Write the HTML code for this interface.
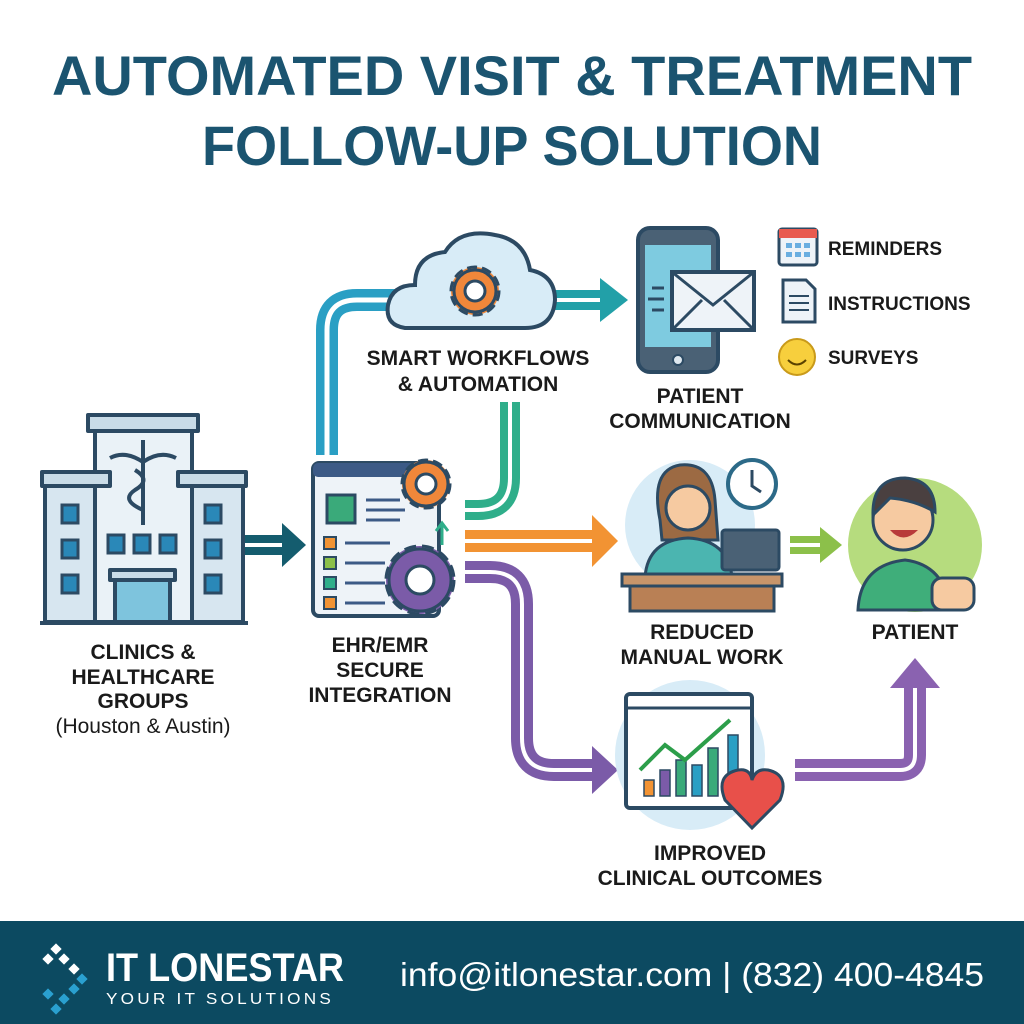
<!DOCTYPE html>
<html><head><meta charset="utf-8"><style>
html,body{margin:0;padding:0;background:#fff}
svg{display:block}
text{font-family:"Liberation Sans",sans-serif}
.lb{font-weight:bold;font-size:21px;fill:#1a1a1a;text-anchor:middle}
</style></head><body>
<svg width="1024" height="1024" viewBox="0 0 1024 1024" xmlns="http://www.w3.org/2000/svg">
<rect width="1024" height="1024" fill="#fff"/>
<!-- Title -->
<text x="512" y="95" text-anchor="middle" font-size="56" font-weight="bold" fill="#1b5470" textLength="920" lengthAdjust="spacingAndGlyphs">AUTOMATED VISIT &amp; TREATMENT</text>
<text x="512" y="165" text-anchor="middle" font-size="56" font-weight="bold" fill="#1b5470" textLength="620" lengthAdjust="spacingAndGlyphs">FOLLOW-UP SOLUTION</text>

<!-- Pipes -->
<g fill="none" stroke-linecap="butt">
 <path d="M327 455 V330 Q327 300 357 300 H395" stroke="#2a9fc4" stroke-width="22"/>
 <path d="M327 455 V330 Q327 300 357 300 H395" stroke="#fff" stroke-width="5"/>
 <path d="M555 300 H605" stroke="#22a0a8" stroke-width="20"/>
 <path d="M555 300 H605" stroke="#fff" stroke-width="4"/>
 <path d="M510 402 V478 Q510 510 478 510 H465" stroke="#2fae8a" stroke-width="20"/>
 <path d="M510 402 V478 Q510 510 478 510 H465" stroke="#fff" stroke-width="4"/>
 <path d="M465 541 H595" stroke="#f29333" stroke-width="22"/>
 <path d="M465 541 H595" stroke="#fff" stroke-width="4"/>
 <path d="M465 572 H490 Q522 572 522 604 V738 Q522 770 554 770 H595" stroke="#7b5ba8" stroke-width="22"/>
 <path d="M465 572 H490 Q522 572 522 604 V738 Q522 770 554 770 H595" stroke="#fff" stroke-width="4"/>
 <path d="M795 770 H900 Q915 770 915 755 V685" stroke="#8a62b0" stroke-width="22"/>
 <path d="M795 770 H900 Q915 770 915 755 V685" stroke="#fff" stroke-width="4"/>
 <path d="M245 545 H285" stroke="#145c6e" stroke-width="20"/>
 <path d="M245 545 H285" stroke="#fff" stroke-width="4"/>
 <path d="M790 545 H822" stroke="#8cc04a" stroke-width="18"/>
 <path d="M790 545 H822" stroke="#fff" stroke-width="4"/>
</g>
<polygon points="600,278 628,300 600,322" fill="#22a0a8"/>
<polygon points="592,515 618,541 592,567" fill="#f29333"/>
<polygon points="592,746 618,770 592,794" fill="#7b5ba8"/>
<polygon points="890,688 915,658 940,688" fill="#8a62b0"/>
<polygon points="282,523 306,545 282,567" fill="#145c6e"/>
<polygon points="820,527 842,545 820,563" fill="#8cc04a"/>

<!-- Hospital -->
<g stroke="#2c4a63" stroke-width="4" stroke-linejoin="round">
 <rect x="45" y="472" width="60" height="150" fill="#d7e6f0"/>
 <rect x="183" y="472" width="60" height="150" fill="#d7e6f0"/>
 <rect x="95" y="425" width="97" height="197" fill="#eaf2f7"/>
 <rect x="88" y="415" width="110" height="16" fill="#c9dce8"/>
 <rect x="42" y="472" width="68" height="14" fill="#c9dce8"/>
 <rect x="178" y="472" width="68" height="14" fill="#c9dce8"/>
 <rect x="115" y="578" width="55" height="44" fill="#7ec4dd"/>
 <rect x="110" y="570" width="65" height="10" fill="#c9dce8"/>
</g>
<g fill="#2a88b8" stroke="#2c4a63" stroke-width="3">
 <rect x="62" y="505" width="16" height="18"/><rect x="62" y="540" width="16" height="18"/><rect x="62" y="575" width="16" height="18"/>
 <rect x="205" y="505" width="16" height="18"/><rect x="205" y="540" width="16" height="18"/><rect x="205" y="575" width="16" height="18"/>
 <rect x="108" y="535" width="16" height="18"/><rect x="134" y="535" width="16" height="18"/><rect x="160" y="535" width="16" height="18"/>
</g>
<g stroke="#2c4a63" stroke-width="4" fill="none">
 <line x1="143" y1="440" x2="143" y2="525"/>
 <path d="M110 458 Q125 450 143 462 Q160 450 176 458"/>
 <path d="M135 470 Q152 480 135 490 Q120 500 143 510"/>
</g>
<line x1="40" y1="623" x2="248" y2="623" stroke="#2c4a63" stroke-width="4"/>
<text class="lb" x="143" y="659">CLINICS &amp;</text>
<text class="lb" x="143" y="684">HEALTHCARE</text>
<text class="lb" x="143" y="708">GROUPS</text>
<text x="143" y="733" text-anchor="middle" font-size="21" fill="#1a1a1a">(Houston &amp; Austin)</text>

<!-- EHR window -->
<rect x="313" y="463" width="126" height="153" rx="6" fill="#eef3f8" stroke="#2c4a63" stroke-width="4"/>
<rect x="313" y="463" width="126" height="14" rx="5" fill="#3c5a86"/>
<rect x="327" y="495" width="28" height="28" fill="#3aaa7a" stroke="#2c4a63" stroke-width="3"/>
<g stroke="#3c5a86" stroke-width="3"><line x1="366" y1="500" x2="400" y2="500"/><line x1="366" y1="510" x2="405" y2="510"/><line x1="366" y1="520" x2="400" y2="520"/>
<line x1="345" y1="543" x2="390" y2="543"/><line x1="345" y1="563" x2="385" y2="563"/><line x1="345" y1="583" x2="385" y2="583"/><line x1="345" y1="603" x2="385" y2="603"/></g>
<rect x="324" y="537" width="12" height="12" fill="#f29333" stroke="#2c4a63" stroke-width="2"/>
<rect x="324" y="557" width="12" height="12" fill="#8cc04a" stroke="#2c4a63" stroke-width="2"/>
<rect x="324" y="577" width="12" height="12" fill="#2fae8a" stroke="#2c4a63" stroke-width="2"/>
<rect x="324" y="597" width="12" height="12" fill="#f29333" stroke="#2c4a63" stroke-width="2"/>
<g stroke="#2c4a63" stroke-width="3">
 <circle cx="426" cy="484" r="24" fill="#f0873a" stroke-dasharray="10 5"/>
 <circle cx="426" cy="484" r="22" fill="#f0873a"/>
 <circle cx="426" cy="484" r="10" fill="#fff"/>
 <circle cx="420" cy="580" r="34" fill="#7b5ba8" stroke-dasharray="12 6"/>
 <circle cx="420" cy="580" r="31" fill="#7b5ba8"/>
 <circle cx="420" cy="580" r="14" fill="#fff"/>
</g>
<path d="M442 545 V525 M436 531 L442 523 L448 531" stroke="#2fae8a" stroke-width="3" fill="none"/>
<text class="lb" x="380" y="652">EHR/EMR</text>
<text class="lb" x="380" y="677">SECURE</text>
<text class="lb" x="380" y="702">INTEGRATION</text>

<!-- Cloud -->
<path d="M405 328 Q385 325 388 305 Q392 285 415 285 Q415 255 445 252 Q460 228 495 235 Q525 240 530 270 Q555 275 555 300 Q553 328 525 328 Z" fill="#d8ecf7" stroke="#2c4a63" stroke-width="4"/>
<circle cx="475" cy="291" r="24" fill="#f0873a" stroke="#2c4a63" stroke-width="3" stroke-dasharray="10 5"/>
<circle cx="475" cy="291" r="21" fill="#f0873a" stroke="#2c4a63" stroke-width="3"/>
<circle cx="475" cy="291" r="10" fill="#fff" stroke="#2c4a63" stroke-width="3"/>
<text class="lb" x="478" y="365">SMART WORKFLOWS</text>
<text class="lb" x="478" y="391">&amp; AUTOMATION</text>

<!-- Phone -->
<rect x="638" y="228" width="80" height="144" rx="12" fill="#4a6175" stroke="#2c4a63" stroke-width="4"/>
<rect x="645" y="245" width="66" height="102" fill="#7ecbe0"/>
<circle cx="678" cy="360" r="5" fill="#dfe8ef" stroke="#2c4a63" stroke-width="2"/>
<rect x="672" y="272" width="82" height="58" fill="#eef3f8" stroke="#2c4a63" stroke-width="4"/>
<path d="M672 272 L713 305 L754 272 M672 330 L702 300 M754 330 L724 300" stroke="#2c4a63" stroke-width="3" fill="none"/>
<g stroke="#2c4a63" stroke-width="3"><line x1="652" y1="288" x2="664" y2="288"/><line x1="648" y1="299" x2="664" y2="299"/><line x1="652" y1="310" x2="664" y2="310"/></g>
<text class="lb" x="700" y="403">PATIENT</text>
<text class="lb" x="700" y="428">COMMUNICATION</text>

<!-- list -->
<rect x="779" y="229" width="38" height="36" rx="3" fill="#eef3f8" stroke="#2c4a63" stroke-width="3"/>
<rect x="779" y="229" width="38" height="9" fill="#e85a4f"/>
<g fill="#6aaee0"><rect x="786" y="243" width="6" height="5"/><rect x="795" y="243" width="6" height="5"/><rect x="804" y="243" width="6" height="5"/><rect x="786" y="252" width="6" height="5"/><rect x="795" y="252" width="6" height="5"/><rect x="804" y="252" width="6" height="5"/></g>
<text x="828" y="255" font-size="19" font-weight="bold" fill="#1a1a1a">REMINDERS</text>
<path d="M783 280 H806 L815 289 V322 H783 Z" fill="#eef3f8" stroke="#2c4a63" stroke-width="3"/>
<g stroke="#2c4a63" stroke-width="2"><line x1="789" y1="296" x2="809" y2="296"/><line x1="789" y1="303" x2="809" y2="303"/><line x1="789" y1="310" x2="809" y2="310"/></g>
<text x="828" y="310" font-size="19" font-weight="bold" fill="#1a1a1a">INSTRUCTIONS</text>
<circle cx="797" cy="357" r="18" fill="#f7cf3d" stroke="#c99a1a" stroke-width="2"/>
<path d="M788 360 Q797 369 806 360" stroke="#5a4200" stroke-width="2" fill="none"/>
<text x="828" y="364" font-size="19" font-weight="bold" fill="#1a1a1a">SURVEYS</text>

<!-- Nurse -->
<circle cx="690" cy="525" r="65" fill="#d8ecf7"/>
<path d="M660 520 Q650 470 680 465 Q712 462 715 500 L718 540 L662 540 Z" fill="#9c6a43" stroke="#2c4a63" stroke-width="3"/>
<circle cx="688" cy="508" r="22" fill="#f6caa1" stroke="#2c4a63" stroke-width="3"/>
<path d="M645 577 Q648 540 688 538 Q728 540 732 577 Z" fill="#4bb5b0" stroke="#2c4a63" stroke-width="3"/>
<circle cx="752" cy="484" r="24" fill="#fff" stroke="#2c6a88" stroke-width="4"/>
<path d="M752 470 V486 L761 492" stroke="#2c4a63" stroke-width="3" fill="none"/>
<rect x="722" y="530" width="57" height="40" rx="3" fill="#4a6175" stroke="#2c4a63" stroke-width="3"/>
<rect x="622" y="574" width="160" height="12" fill="#c8956a" stroke="#2c4a63" stroke-width="3"/>
<rect x="630" y="586" width="144" height="25" fill="#b98055" stroke="#2c4a63" stroke-width="3"/>
<text class="lb" x="702" y="639">REDUCED</text>
<text class="lb" x="702" y="664">MANUAL WORK</text>

<!-- Patient -->
<circle cx="915" cy="545" r="67" fill="#b6dc7e"/>
<path d="M858 610 Q860 565 905 560 Q945 565 950 610 Z" fill="#3fae7a" stroke="#2c4a63" stroke-width="3"/>
<circle cx="903" cy="520" r="30" fill="#f6caa1" stroke="#2c4a63" stroke-width="3"/>
<path d="M873 515 Q872 478 905 478 Q935 480 935 512 Q915 500 890 498 Z" fill="#4a4040" stroke="#2c4a63" stroke-width="3"/>
<path d="M890 530 Q903 545 918 530 Z" fill="#b83a3a"/>
<rect x="932" y="578" width="42" height="32" rx="10" fill="#f6caa1" stroke="#2c4a63" stroke-width="3"/>
<text class="lb" x="915" y="639">PATIENT</text>

<!-- Outcomes -->
<circle cx="690" cy="755" r="75" fill="#d8ecf7"/>
<rect x="626" y="694" width="126" height="114" rx="4" fill="#fff" stroke="#2c4a63" stroke-width="4"/>
<line x1="626" y1="708" x2="752" y2="708" stroke="#2c4a63" stroke-width="3"/>
<g stroke="#2c4a63" stroke-width="1.5"><rect x="644" y="780" width="10" height="16" fill="#f29333"/><rect x="660" y="770" width="10" height="26" fill="#7b5ba8"/><rect x="676" y="760" width="10" height="36" fill="#3aaa7a"/><rect x="692" y="765" width="10" height="31" fill="#2a9fc4"/><rect x="708" y="748" width="10" height="48" fill="#3aaa7a"/><rect x="728" y="735" width="10" height="61" fill="#2a9fc4"/></g>
<path d="M640 770 L665 745 L685 760 L730 720" stroke="#2c9e4a" stroke-width="4" fill="none"/>
<path d="M752 828 L725 800 Q715 775 738 770 Q750 768 752 780 Q756 768 768 770 Q790 775 780 800 Z" fill="#e8504a" stroke="#2c4a63" stroke-width="3"/>
<text class="lb" x="710" y="860">IMPROVED</text>
<text class="lb" x="710" y="885">CLINICAL OUTCOMES</text>

<!-- Footer -->
<rect x="0" y="921" width="1024" height="103" fill="#0c4a61"/>
<g fill="#fff"><rect x="52" y="945" width="8" height="8" transform="rotate(45 56 949)"/><rect x="60" y="955" width="8" height="8" transform="rotate(45 64 959)"/><rect x="70" y="965" width="8" height="8" transform="rotate(45 74 969)"/><rect x="44" y="955" width="8" height="8" transform="rotate(45 48 959)"/></g>
<g fill="#2aa0d0"><rect x="78" y="975" width="8" height="8" transform="rotate(45 82 979)"/><rect x="70" y="985" width="8" height="8" transform="rotate(45 74 989)"/><rect x="60" y="995" width="8" height="8" transform="rotate(45 64 999)"/><rect x="52" y="1005" width="8" height="8" transform="rotate(45 56 1009)"/><rect x="44" y="990" width="8" height="8" transform="rotate(45 48 994)"/></g>
<text x="106" y="981" font-size="40" font-weight="bold" fill="#fff" textLength="238" lengthAdjust="spacingAndGlyphs">IT LONESTAR</text>
<text x="106" y="1004" font-size="16" fill="#fff" letter-spacing="3" textLength="228" lengthAdjust="spacingAndGlyphs">YOUR IT SOLUTIONS</text>
<text x="400" y="986" font-size="33" fill="#fff" textLength="584" lengthAdjust="spacingAndGlyphs">info@itlonestar.com  | (832) 400-4845</text>
</svg>
</body></html>
